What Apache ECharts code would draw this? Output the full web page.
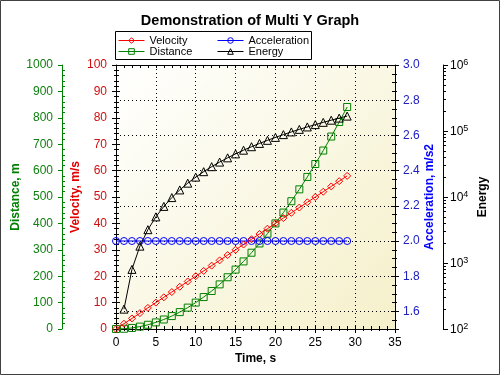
<!DOCTYPE html>
<html><head><meta charset="utf-8">
<script src="https://cdn.jsdelivr.net/npm/echarts@6/dist/echarts.min.js"></script>
<style>html,body{margin:0;padding:0;background:#fff}#c{width:500px;height:375px}</style>
</head><body><div id="c"></div>
<script>
// ---- data ----
const time = [0,1,2,3,4,5,6,7,8,9,10,11,12,13,14,15,16,17,18,19,20,21,22,23,24,25,26,27,28,29];
const velocity = [0,2,4,6,8,10,12,14,16,18,20,22,24,26,28,30,32,34,36,38,40,42,44,46,48,50,52,54,56,58];
const distance = [0,1,4,9,16,25,36,49,64,81,100,121,144,169,196,225,256,289,324,361,400,441,484,529,576,625,676,729,784,841];
const acceleration = [2,2,2,2,2,2,2,2,2,2,2,2,2,2,2,2,2,2,2,2,2,2,2,2,2,2,2,2,2,2];
const energyTime = [1,2,3,4,5,6,7,8,9,10,11,12,13,14,15,16,17,18,19,20,21,22,23,24,25,26,27,28,29];
const energy = [200,800,1800,3200,5000,7200,9800,12800,16200,20000,24200,28800,33800,39200,45000,51200,57800,64800,72200,80000,88200,96800,105800,115200,125000,135200,145800,156800,168200];
const energyMinorTicks = [200,300,400,500,600,700,800,900,2000,3000,4000,5000,6000,7000,8000,9000,20000,30000,40000,50000,60000,70000,80000,90000,200000,300000,400000,500000,600000,700000,800000,900000];
const titleText = 'Demonstration of Multi Y Graph';

const FONT = 'Arial, "Liberation Sans", sans-serif';
const DOT = [1, 3];
const CLEAR = 'rgba(255,255,255,0)';
const pairs = (xs, ys) => xs.map((x, i) => [x, ys[i]]);

const chart = echarts.init(document.getElementById('c'), null, {renderer: 'canvas'});

const noSplit = {show: false};
const hiddenLine = {show: false, onZero: false};
const hidden = {show: false};
const line = col => ({show: true, onZero: false, lineStyle: {color: col, width: 1}});
const legendItem = (name, col) => ({name, itemStyle: {color: CLEAR, borderColor: col, borderWidth: 1}, lineStyle: {color: col, width: 1}});
const legendBase = {orient: 'vertical', top: 35, padding: 0, itemWidth: 26, itemHeight: 7, itemGap: 0, z: 10,
  textStyle: {fontFamily: FONT, fontSize: 11, color: '#000', lineHeight: 11}};

chart.setOption({
  animation: false,
  backgroundColor: '#ffffff',
  textStyle: {fontFamily: FONT},
  title: {
    text: titleText, left: 'center', top: 8,
    textStyle: {fontFamily: FONT, fontSize: 14.5, fontWeight: 'bold', color: '#000'}
  },
  graphic: [
    {type: 'rect', z: 0, shape: {x: 0.5, y: 0.5, width: 499, height: 374}, style: {fill: 'none', stroke: '#404040', lineWidth: 1}},
    {type: 'rect', z: 0, shape: {x: 115.5, y: 31.5, width: 196, height: 28}, style: {fill: '#ffffff', stroke: '#000', lineWidth: 1}}
  ],
  legend: [
    Object.assign({}, legendBase, {left: 118, data: [legendItem('Velocity', '#ff0000'), legendItem('Distance', '#008000')]}),
    Object.assign({}, legendBase, {left: 217, data: [legendItem('Acceleration', '#0000ff'), legendItem('Energy', '#000000')]})
  ],
  grid: {
    left: 116, right: 105, top: 65, bottom: 46, show: true, borderWidth: 0,
    outerBoundsMode: 'none', containLabel: false,
    backgroundColor: {type: 'linear', x: 0, y: 0, x2: 1, y2: 1,
      colorStops: [{offset: 0, color: '#ffffff'}, {offset: 1, color: '#f5f0ca'}]}
  },
  xAxis: [
    {type: 'value', position: 'bottom', min: 0, max: 35, interval: 5,
     axisLine: line('#000'),
     axisTick: {show: true, length: 4, lineStyle: {color: '#000'}},
     minorTick: {show: true, splitNumber: 5, length: 2, lineStyle: {color: '#000'}},
     splitLine: {show: true, lineStyle: {color: '#000', type: DOT, width: 1}},
     axisLabel: {color: '#000', fontSize: 12, fontFamily: FONT, margin: 8},
     name: 'Time, s', nameLocation: 'middle', nameGap: 24, nameMoveOverlap: false,
     nameTextStyle: {fontFamily: FONT, fontSize: 12, fontWeight: 'bold', color: '#000'}},
    {type: 'value', position: 'bottom', min: 0, max: 35, interval: 5,
     axisLine: hiddenLine, axisLabel: hidden, splitLine: noSplit,
     axisTick: {show: true, inside: true, length: 4, lineStyle: {color: '#000'}},
     minorTick: {show: true, splitNumber: 5, length: 3, lineStyle: {color: '#000'}}},
    {type: 'value', position: 'top', min: 0, max: 35, interval: 1,
     axisLine: line('#000'), axisLabel: hidden, splitLine: noSplit,
     axisTick: {show: true, inside: true, length: 3, lineStyle: {color: '#000'}}}
  ],
  yAxis: [
    // 0 velocity (main)
    {type: 'value', position: 'left', offset: 0, min: 0, max: 100, interval: 10,
     axisLine: line('#000'),
     axisTick: {show: true, length: 4, lineStyle: {color: '#000'}},
     minorTick: {show: true, splitNumber: 5, length: 2, lineStyle: {color: '#000'}},
     splitLine: noSplit,
     axisLabel: {color: '#d01010', fontSize: 12, fontFamily: FONT, margin: 9},
     name: 'Velocity, m/s', nameLocation: 'middle', nameRotate: 90, nameGap: 34, nameMoveOverlap: false,
     nameTextStyle: {fontFamily: FONT, fontSize: 12, fontWeight: 'bold', color: '#e00000'}},
    // 1 velocity inner ticks
    {type: 'value', position: 'left', offset: 0, min: 0, max: 100, interval: 10,
     axisLine: hiddenLine, axisLabel: hidden, splitLine: noSplit,
     axisTick: {show: true, inside: true, length: 4, lineStyle: {color: '#000'}},
     minorTick: {show: true, splitNumber: 5, length: 3, lineStyle: {color: '#000'}}},
    // 2 distance
    {type: 'value', position: 'left', offset: 54, min: 0, max: 1000, interval: 100,
     axisLine: line('#008000'),
     axisTick: {show: true, length: 4, lineStyle: {color: '#008000'}},
     splitLine: noSplit,
     axisLabel: {color: '#108010', fontSize: 12, fontFamily: FONT, margin: 9, formatter: v => String(v)},
     name: 'Distance, m', nameLocation: 'middle', nameRotate: 90, nameGap: 40, nameMoveOverlap: false,
     nameTextStyle: {fontFamily: FONT, fontSize: 12, fontWeight: 'bold', color: '#008000'}},
    // 3 distance minor ticks inside
    {type: 'value', position: 'left', offset: 54, min: 0, max: 1000, interval: 100,
     axisLine: hiddenLine, axisLabel: hidden, splitLine: noSplit,
     axisTick: {show: false, inside: true},
     minorTick: {show: true, splitNumber: 5, length: 3, lineStyle: {color: '#008000'}}},
    // 4 acceleration (main)
    {type: 'value', position: 'right', offset: 0, min: 1.5, max: 3.0, splitNumber: 8,
     axisLine: line('#000'),
     axisTick: {show: true, length: 4, lineStyle: {color: '#000'}},
     minorTick: {show: true, splitNumber: 4, length: 2, lineStyle: {color: '#000'}},
     splitLine: {show: true, lineStyle: {color: '#000', type: DOT, width: 1}},
     axisLabel: {color: '#2020c0', fontSize: 12, fontFamily: FONT, margin: 8, showMinLabel: false,
       formatter: v => v.toFixed(1)},
     name: 'Acceleration, m/s2', nameLocation: 'middle', nameRotate: 90, nameGap: 29, nameMoveOverlap: false,
     nameTextStyle: {fontFamily: FONT, fontSize: 12, fontWeight: 'bold', color: '#0000ff'}},
    // 5 acceleration inner ticks
    {type: 'value', position: 'right', offset: 0, min: 1.5, max: 3.0, splitNumber: 8,
     axisLine: hiddenLine, axisLabel: hidden, splitLine: noSplit,
     axisTick: {show: true, inside: true, length: 4, lineStyle: {color: '#000'}},
     minorTick: {show: true, splitNumber: 4, length: 3, lineStyle: {color: '#000'}}},
    // 6 energy (log)
    {type: 'log', logBase: 10, position: 'right', offset: 48, min: 100, max: 1000000,
     axisLine: line('#000'),
     axisTick: {show: true, length: 5, lineStyle: {color: '#000'}},
     splitLine: noSplit,
     axisLabel: {color: '#000', fontFamily: FONT, margin: 7,
       formatter: v => '{n|10}{s|' + Math.round(Math.log10(v)) + '}',
       rich: {n: {fontSize: 12, fontFamily: FONT, color: '#000', verticalAlign: 'bottom', lineHeight: 14},
              s: {fontSize: 9, fontFamily: FONT, color: '#000', verticalAlign: 'top', lineHeight: 14}}},
     name: 'Energy', nameLocation: 'middle', nameRotate: 90, nameGap: 34, nameMoveOverlap: false,
     nameTextStyle: {fontFamily: FONT, fontSize: 12, fontWeight: 'bold', color: '#000'}},
    // 7 energy minor ticks
    {type: 'log', logBase: 10, position: 'right', offset: 48, min: 100, max: 1000000,
     axisLine: hiddenLine, axisLabel: hidden, splitLine: noSplit,
     axisTick: {show: true, length: 3, customValues: energyMinorTicks, lineStyle: {color: '#000'}}}
  ],
  series: [
    {name: 'Velocity', type: 'line', xAxisIndex: 0, yAxisIndex: 0, data: pairs(time, velocity),
     color: '#ff0000', symbol: 'diamond', symbolSize: 7, z: 5,
     lineStyle: {color: '#ff0000', width: 1},
     itemStyle: {color: CLEAR, borderColor: '#ff0000', borderWidth: 1}},
    {name: 'Acceleration', type: 'line', xAxisIndex: 0, yAxisIndex: 4, data: pairs(time, acceleration),
     color: '#0000ff', symbol: 'circle', symbolSize: 7, z: 4,
     lineStyle: {color: '#0000ff', width: 1},
     itemStyle: {color: CLEAR, borderColor: '#0000ff', borderWidth: 1}},
    {name: 'Distance', type: 'line', xAxisIndex: 0, yAxisIndex: 2, data: pairs(time, distance),
     color: '#008000', symbol: 'rect', symbolSize: 7, z: 3,
     lineStyle: {color: '#008000', width: 1},
     itemStyle: {color: CLEAR, borderColor: '#008000', borderWidth: 1}},
    {name: 'Energy', type: 'line', xAxisIndex: 0, yAxisIndex: 6, data: pairs(energyTime, energy),
     color: '#000000', symbol: 'triangle', symbolSize: 8, z: 6,
     lineStyle: {color: '#000', width: 1},
     itemStyle: {color: CLEAR, borderColor: '#000', borderWidth: 1}}
  ]
});
</script></body></html>
